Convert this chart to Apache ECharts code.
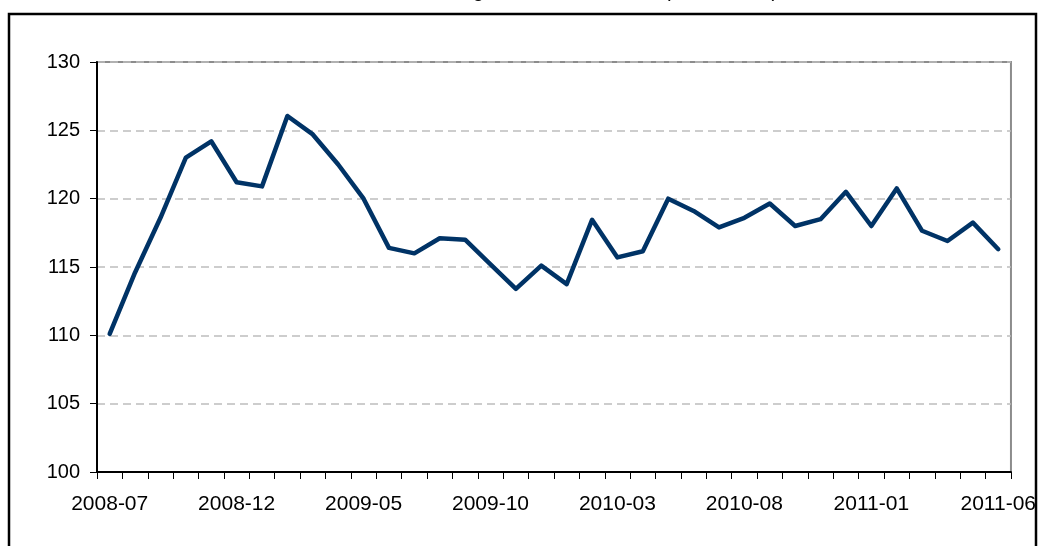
<!DOCTYPE html>
<html>
<head>
<meta charset="utf-8">
<script src="https://cdn.jsdelivr.net/npm/echarts@6/dist/echarts.min.js"></script>
<style>
  html, body { margin: 0; padding: 0; background: #fff; }
  #chart { width: 1039px; height: 546px; }
</style>
</head>
<body>
<div id="chart"></div>
<script>
// monthly categories 2008-07 .. 2011-06
var months = [
  '2008-07','2008-08','2008-09','2008-10','2008-11','2008-12',
  '2009-01','2009-02','2009-03','2009-04','2009-05','2009-06',
  '2009-07','2009-08','2009-09','2009-10','2009-11','2009-12',
  '2010-01','2010-02','2010-03','2010-04','2010-05','2010-06',
  '2010-07','2010-08','2010-09','2010-10','2010-11','2010-12',
  '2011-01','2011-02','2011-03','2011-04','2011-05','2011-06'
];
var values = [
  110.1, 114.6, 118.6, 123.0, 124.2, 121.2,
  120.9, 126.05, 124.7, 122.5, 120.0, 116.4,
  116.0, 117.1, 117.0, 115.2, 113.4, 115.1,
  113.75, 118.45, 115.7, 116.15, 120.0, 119.1,
  117.9, 118.6, 119.65, 118.0, 118.5, 120.5,
  118.0, 120.75, 117.65, 116.9, 118.25, 116.3
];
var yTicks = { min: 100, max: 130, step: 5 };
// title is cut off at the top edge, only descenders show
var titleText = 'Real effective exchange rate: overall index (2000 = 100)';

var chart = echarts.init(document.getElementById('chart'));
chart.setOption({
  animation: false,
  textStyle: { fontFamily: 'Liberation Sans, Arial, sans-serif' },
  grid: {
    left: 97, right: 27, top: 62, bottom: 74,
    show: true, borderColor: '#8c8c8c', borderWidth: 2, backgroundColor: '#fff'
  },
  xAxis: {
    type: 'category',
    data: months,
    boundaryGap: true,
    axisLine: { lineStyle: { color: '#000', width: 2 } },
    axisTick: { show: true, interval: 0, length: 7, lineStyle: { color: '#000', width: 1 } },
    axisLabel: { interval: 4, margin: 22, color: '#000', fontSize: 21 },
    splitLine: { show: false }
  },
  yAxis: {
    type: 'value',
    min: yTicks.min, max: yTicks.max, interval: yTicks.step,
    axisLine: { show: true, lineStyle: { color: '#000', width: 2 } },
    axisTick: { show: true, length: 7, lineStyle: { color: '#000', width: 1 } },
    axisLabel: { margin: 17, color: '#000', fontSize: 20 },
    splitLine: { lineStyle: { color: '#bdbdbd', width: 1.5, type: [8, 5] } }
  },
  series: [{
    type: 'line',
    data: values,
    showSymbol: false,
    symbol: 'none',
    lineStyle: { color: '#003366', width: 4.5, join: 'round', cap: 'round' }
  }],
  graphic: [
    {
      type: 'rect', z: 100, silent: true,
      shape: { x: 9, y: 14, width: 1027, height: 545 },
      style: { fill: null, stroke: '#000', lineWidth: 2.5 }
    },
    {
      type: 'text', z: 100, left: 282, top: -19,
      style: { text: titleText, fontSize: 20, fill: '#000', fontFamily: 'Liberation Sans, Arial, sans-serif' }
    }
  ]
});
</script>
</body>
</html>
